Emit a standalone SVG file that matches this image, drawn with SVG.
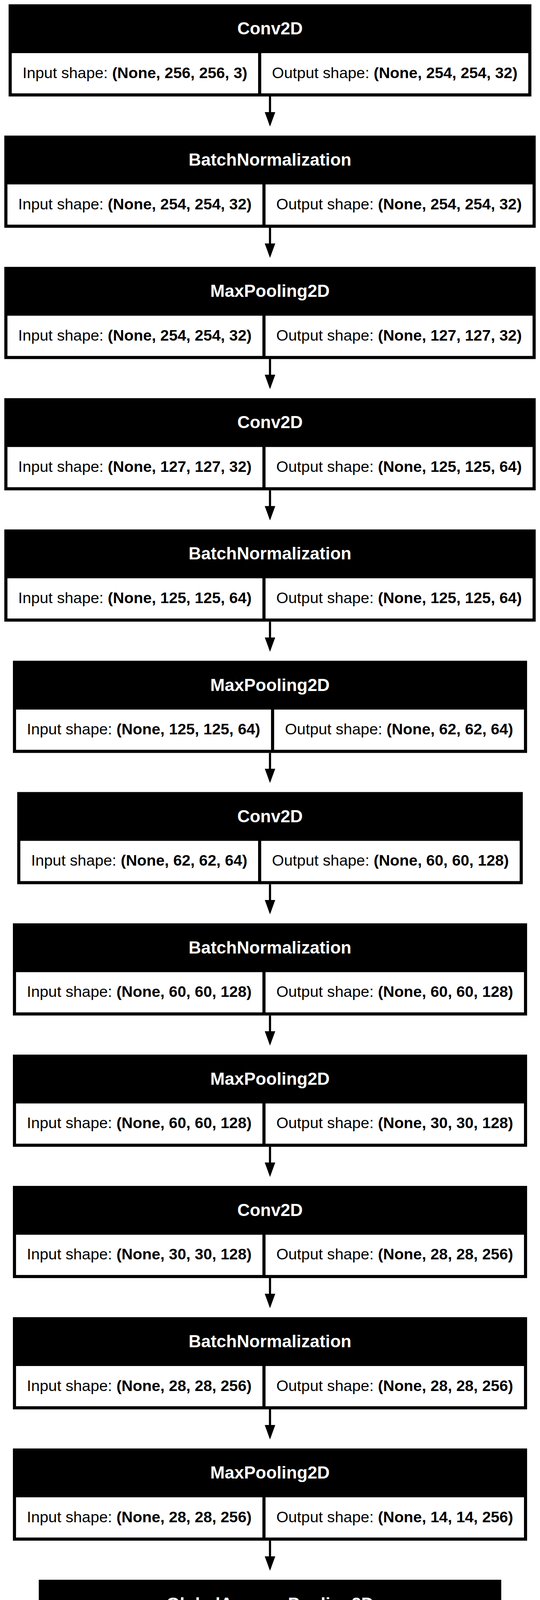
<svg xmlns="http://www.w3.org/2000/svg" width="1383" height="5972" viewBox="0 0 1383 5972">
<style>
.box{fill:#000}
.cell{fill:#fff}
.hdr{font-family:"Liberation Sans",Arial,sans-serif;font-size:44.4px;font-weight:bold;fill:#fff;text-anchor:middle}
.s{font-family:"Liberation Sans",Arial,sans-serif;font-size:39.7px;fill:#000;text-anchor:middle}
.b{font-weight:bold}
.edge{stroke:#000;stroke-width:5.5;fill:none}
</style>
<defs>
<marker id="arr" viewBox="0 0 37 27" refX="30" refY="13.5" markerWidth="37" markerHeight="27" markerUnits="userSpaceOnUse" orient="auto">
<path d="M0,0 L37,13.5 L0,27 z" fill="#000"/>
</marker>
</defs>
<rect x="0" y="0" width="1383" height="5972" fill="#fff"/>

<g id="edges">
<path class="edge" marker-end="url(#arr)" d="M691.5,247 V317.1"/>
<path class="edge" marker-end="url(#arr)" d="M691.5,583.1 V653.2"/>
<path class="edge" marker-end="url(#arr)" d="M691.5,919.2 V989.3"/>
<path class="edge" marker-end="url(#arr)" d="M691.5,1255.3 V1325.4"/>
<path class="edge" marker-end="url(#arr)" d="M691.5,1591.4 V1661.5"/>
<path class="edge" marker-end="url(#arr)" d="M691.5,1927.5 V1997.6"/>
<path class="edge" marker-end="url(#arr)" d="M691.5,2263.6 V2333.7"/>
<path class="edge" marker-end="url(#arr)" d="M691.5,2599.7 V2669.8"/>
<path class="edge" marker-end="url(#arr)" d="M691.5,2935.8 V3005.9"/>
<path class="edge" marker-end="url(#arr)" d="M691.5,3271.9 V3342"/>
<path class="edge" marker-end="url(#arr)" d="M691.5,3608 V3678.1"/>
<path class="edge" marker-end="url(#arr)" d="M691.5,3944.1 V4014.2"/>
<path class="edge" marker-end="url(#arr)" d="M691.5,4280.2 V4350.3"/>
<path class="edge" marker-end="url(#arr)" d="M691.5,4616.3 V4686.4"/>
<path class="edge" marker-end="url(#arr)" d="M691.5,4952.4 V5022.5"/>
<path class="edge" marker-end="url(#arr)" d="M691.5,5288.5 V5358.6"/>
<path class="edge" marker-end="url(#arr)" d="M691.5,5624.6 V5694.7"/>
</g>

<g id="node0" transform="translate(22.05,11)">
<rect class="box" width="1338.9" height="236"/>
<rect class="cell" x="8" y="125" width="631" height="103"/>
<rect class="cell" x="647" y="125" width="683.9" height="103"/>
<text class="hdr" x="669.45" y="77">Conv2D</text>
<text class="s" x="323.5" y="188.5">Input shape: <tspan class="b">(None, 256, 256, 3)</tspan></text>
<text class="s" x="988.95" y="188.5">Output shape: <tspan class="b">(None, 254, 254, 32)</tspan></text>
</g>

<g id="node1" transform="translate(11.05,347.1)">
<rect class="box" width="1360.9" height="236"/>
<rect class="cell" x="8" y="125" width="653" height="103"/>
<rect class="cell" x="669" y="125" width="683.9" height="103"/>
<text class="hdr" x="680.45" y="77">BatchNormalization</text>
<text class="s" x="334.5" y="188.5">Input shape: <tspan class="b">(None, 254, 254, 32)</tspan></text>
<text class="s" x="1010.95" y="188.5">Output shape: <tspan class="b">(None, 254, 254, 32)</tspan></text>
</g>

<g id="node2" transform="translate(11.05,683.2)">
<rect class="box" width="1360.9" height="236"/>
<rect class="cell" x="8" y="125" width="653" height="103"/>
<rect class="cell" x="669" y="125" width="683.9" height="103"/>
<text class="hdr" x="680.45" y="77">MaxPooling2D</text>
<text class="s" x="334.5" y="188.5">Input shape: <tspan class="b">(None, 254, 254, 32)</tspan></text>
<text class="s" x="1010.95" y="188.5">Output shape: <tspan class="b">(None, 127, 127, 32)</tspan></text>
</g>

<g id="node3" transform="translate(11.05,1019.3)">
<rect class="box" width="1360.9" height="236"/>
<rect class="cell" x="8" y="125" width="653" height="103"/>
<rect class="cell" x="669" y="125" width="683.9" height="103"/>
<text class="hdr" x="680.45" y="77">Conv2D</text>
<text class="s" x="334.5" y="188.5">Input shape: <tspan class="b">(None, 127, 127, 32)</tspan></text>
<text class="s" x="1010.95" y="188.5">Output shape: <tspan class="b">(None, 125, 125, 64)</tspan></text>
</g>

<g id="node4" transform="translate(11.05,1355.4)">
<rect class="box" width="1360.9" height="236"/>
<rect class="cell" x="8" y="125" width="653" height="103"/>
<rect class="cell" x="669" y="125" width="683.9" height="103"/>
<text class="hdr" x="680.45" y="77">BatchNormalization</text>
<text class="s" x="334.5" y="188.5">Input shape: <tspan class="b">(None, 125, 125, 64)</tspan></text>
<text class="s" x="1010.95" y="188.5">Output shape: <tspan class="b">(None, 125, 125, 64)</tspan></text>
</g>

<g id="node5" transform="translate(33.1,1691.5)">
<rect class="box" width="1316.8" height="236"/>
<rect class="cell" x="8" y="125" width="653" height="103"/>
<rect class="cell" x="669" y="125" width="639.8" height="103"/>
<text class="hdr" x="658.4" y="77">MaxPooling2D</text>
<text class="s" x="334.5" y="188.5">Input shape: <tspan class="b">(None, 125, 125, 64)</tspan></text>
<text class="s" x="988.9" y="188.5">Output shape: <tspan class="b">(None, 62, 62, 64)</tspan></text>
</g>

<g id="node6" transform="translate(44.1,2027.6)">
<rect class="box" width="1294.8" height="236"/>
<rect class="cell" x="8" y="125" width="608.9" height="103"/>
<rect class="cell" x="624.9" y="125" width="661.9" height="103"/>
<text class="hdr" x="647.4" y="77">Conv2D</text>
<text class="s" x="312.45" y="188.5">Input shape: <tspan class="b">(None, 62, 62, 64)</tspan></text>
<text class="s" x="955.85" y="188.5">Output shape: <tspan class="b">(None, 60, 60, 128)</tspan></text>
</g>

<g id="node7" transform="translate(33.05,2363.7)">
<rect class="box" width="1316.9" height="236"/>
<rect class="cell" x="8" y="125" width="631" height="103"/>
<rect class="cell" x="647" y="125" width="661.9" height="103"/>
<text class="hdr" x="658.45" y="77">BatchNormalization</text>
<text class="s" x="323.5" y="188.5">Input shape: <tspan class="b">(None, 60, 60, 128)</tspan></text>
<text class="s" x="977.95" y="188.5">Output shape: <tspan class="b">(None, 60, 60, 128)</tspan></text>
</g>

<g id="node8" transform="translate(33.05,2699.8)">
<rect class="box" width="1316.9" height="236"/>
<rect class="cell" x="8" y="125" width="631" height="103"/>
<rect class="cell" x="647" y="125" width="661.9" height="103"/>
<text class="hdr" x="658.45" y="77">MaxPooling2D</text>
<text class="s" x="323.5" y="188.5">Input shape: <tspan class="b">(None, 60, 60, 128)</tspan></text>
<text class="s" x="977.95" y="188.5">Output shape: <tspan class="b">(None, 30, 30, 128)</tspan></text>
</g>

<g id="node9" transform="translate(33.05,3035.9)">
<rect class="box" width="1316.9" height="236"/>
<rect class="cell" x="8" y="125" width="631" height="103"/>
<rect class="cell" x="647" y="125" width="661.9" height="103"/>
<text class="hdr" x="658.45" y="77">Conv2D</text>
<text class="s" x="323.5" y="188.5">Input shape: <tspan class="b">(None, 30, 30, 128)</tspan></text>
<text class="s" x="977.95" y="188.5">Output shape: <tspan class="b">(None, 28, 28, 256)</tspan></text>
</g>

<g id="node10" transform="translate(33.05,3372)">
<rect class="box" width="1316.9" height="236"/>
<rect class="cell" x="8" y="125" width="631" height="103"/>
<rect class="cell" x="647" y="125" width="661.9" height="103"/>
<text class="hdr" x="658.45" y="77">BatchNormalization</text>
<text class="s" x="323.5" y="188.5">Input shape: <tspan class="b">(None, 28, 28, 256)</tspan></text>
<text class="s" x="977.95" y="188.5">Output shape: <tspan class="b">(None, 28, 28, 256)</tspan></text>
</g>

<g id="node11" transform="translate(33.05,3708.1)">
<rect class="box" width="1316.9" height="236"/>
<rect class="cell" x="8" y="125" width="631" height="103"/>
<rect class="cell" x="647" y="125" width="661.9" height="103"/>
<text class="hdr" x="658.45" y="77">MaxPooling2D</text>
<text class="s" x="323.5" y="188.5">Input shape: <tspan class="b">(None, 28, 28, 256)</tspan></text>
<text class="s" x="977.95" y="188.5">Output shape: <tspan class="b">(None, 14, 14, 256)</tspan></text>
</g>

<g id="node12" transform="translate(99.3,4044.2)">
<rect class="box" width="1184.4" height="236"/>
<rect class="cell" x="8" y="125" width="631" height="103"/>
<rect class="cell" x="647" y="125" width="529.4" height="103"/>
<text class="hdr" x="592.2" y="77">GlobalAveragePooling2D</text>
<text class="s" x="323.5" y="188.5">Input shape: <tspan class="b">(None, 14, 14, 256)</tspan></text>
<text class="s" x="911.7" y="188.5">Output shape: <tspan class="b">(None, 256)</tspan></text>
</g>

<g id="node13" transform="translate(165.55,4380.3)">
<rect class="box" width="1051.9" height="236"/>
<rect class="cell" x="8" y="125" width="498.5" height="103"/>
<rect class="cell" x="514.5" y="125" width="529.4" height="103"/>
<text class="hdr" x="525.95" y="77">Dense</text>
<text class="s" x="257.25" y="188.5">Input shape: <tspan class="b">(None, 256)</tspan></text>
<text class="s" x="779.2" y="188.5">Output shape: <tspan class="b">(None, 128)</tspan></text>
</g>

<g id="node14" transform="translate(165.55,4716.4)">
<rect class="box" width="1051.9" height="236"/>
<rect class="cell" x="8" y="125" width="498.5" height="103"/>
<rect class="cell" x="514.5" y="125" width="529.4" height="103"/>
<text class="hdr" x="525.95" y="77">Dropout</text>
<text class="s" x="257.25" y="188.5">Input shape: <tspan class="b">(None, 128)</tspan></text>
<text class="s" x="779.2" y="188.5">Output shape: <tspan class="b">(None, 128)</tspan></text>
</g>

<g id="node15" transform="translate(176.6,5052.5)">
<rect class="box" width="1029.8" height="236"/>
<rect class="cell" x="8" y="125" width="498.5" height="103"/>
<rect class="cell" x="514.5" y="125" width="507.3" height="103"/>
<text class="hdr" x="514.9" y="77">Dense</text>
<text class="s" x="257.25" y="188.5">Input shape: <tspan class="b">(None, 128)</tspan></text>
<text class="s" x="768.15" y="188.5">Output shape: <tspan class="b">(None, 64)</tspan></text>
</g>

<g id="node16" transform="translate(187.6,5388.6)">
<rect class="box" width="1007.8" height="236"/>
<rect class="cell" x="8" y="125" width="476.5" height="103"/>
<rect class="cell" x="492.5" y="125" width="507.3" height="103"/>
<text class="hdr" x="503.9" y="77">Dropout</text>
<text class="s" x="246.25" y="188.5">Input shape: <tspan class="b">(None, 64)</tspan></text>
<text class="s" x="746.15" y="188.5">Output shape: <tspan class="b">(None, 64)</tspan></text>
</g>

<g id="node17" transform="translate(198.6,5724.7)">
<rect class="box" width="985.8" height="236"/>
<rect class="cell" x="8" y="125" width="476.5" height="103"/>
<rect class="cell" x="492.5" y="125" width="485.3" height="103"/>
<text class="hdr" x="492.9" y="77">Dense</text>
<text class="s" x="246.25" y="188.5">Input shape: <tspan class="b">(None, 64)</tspan></text>
<text class="s" x="735.15" y="188.5">Output shape: <tspan class="b">(None, 5)</tspan></text>
</g>
</svg>
